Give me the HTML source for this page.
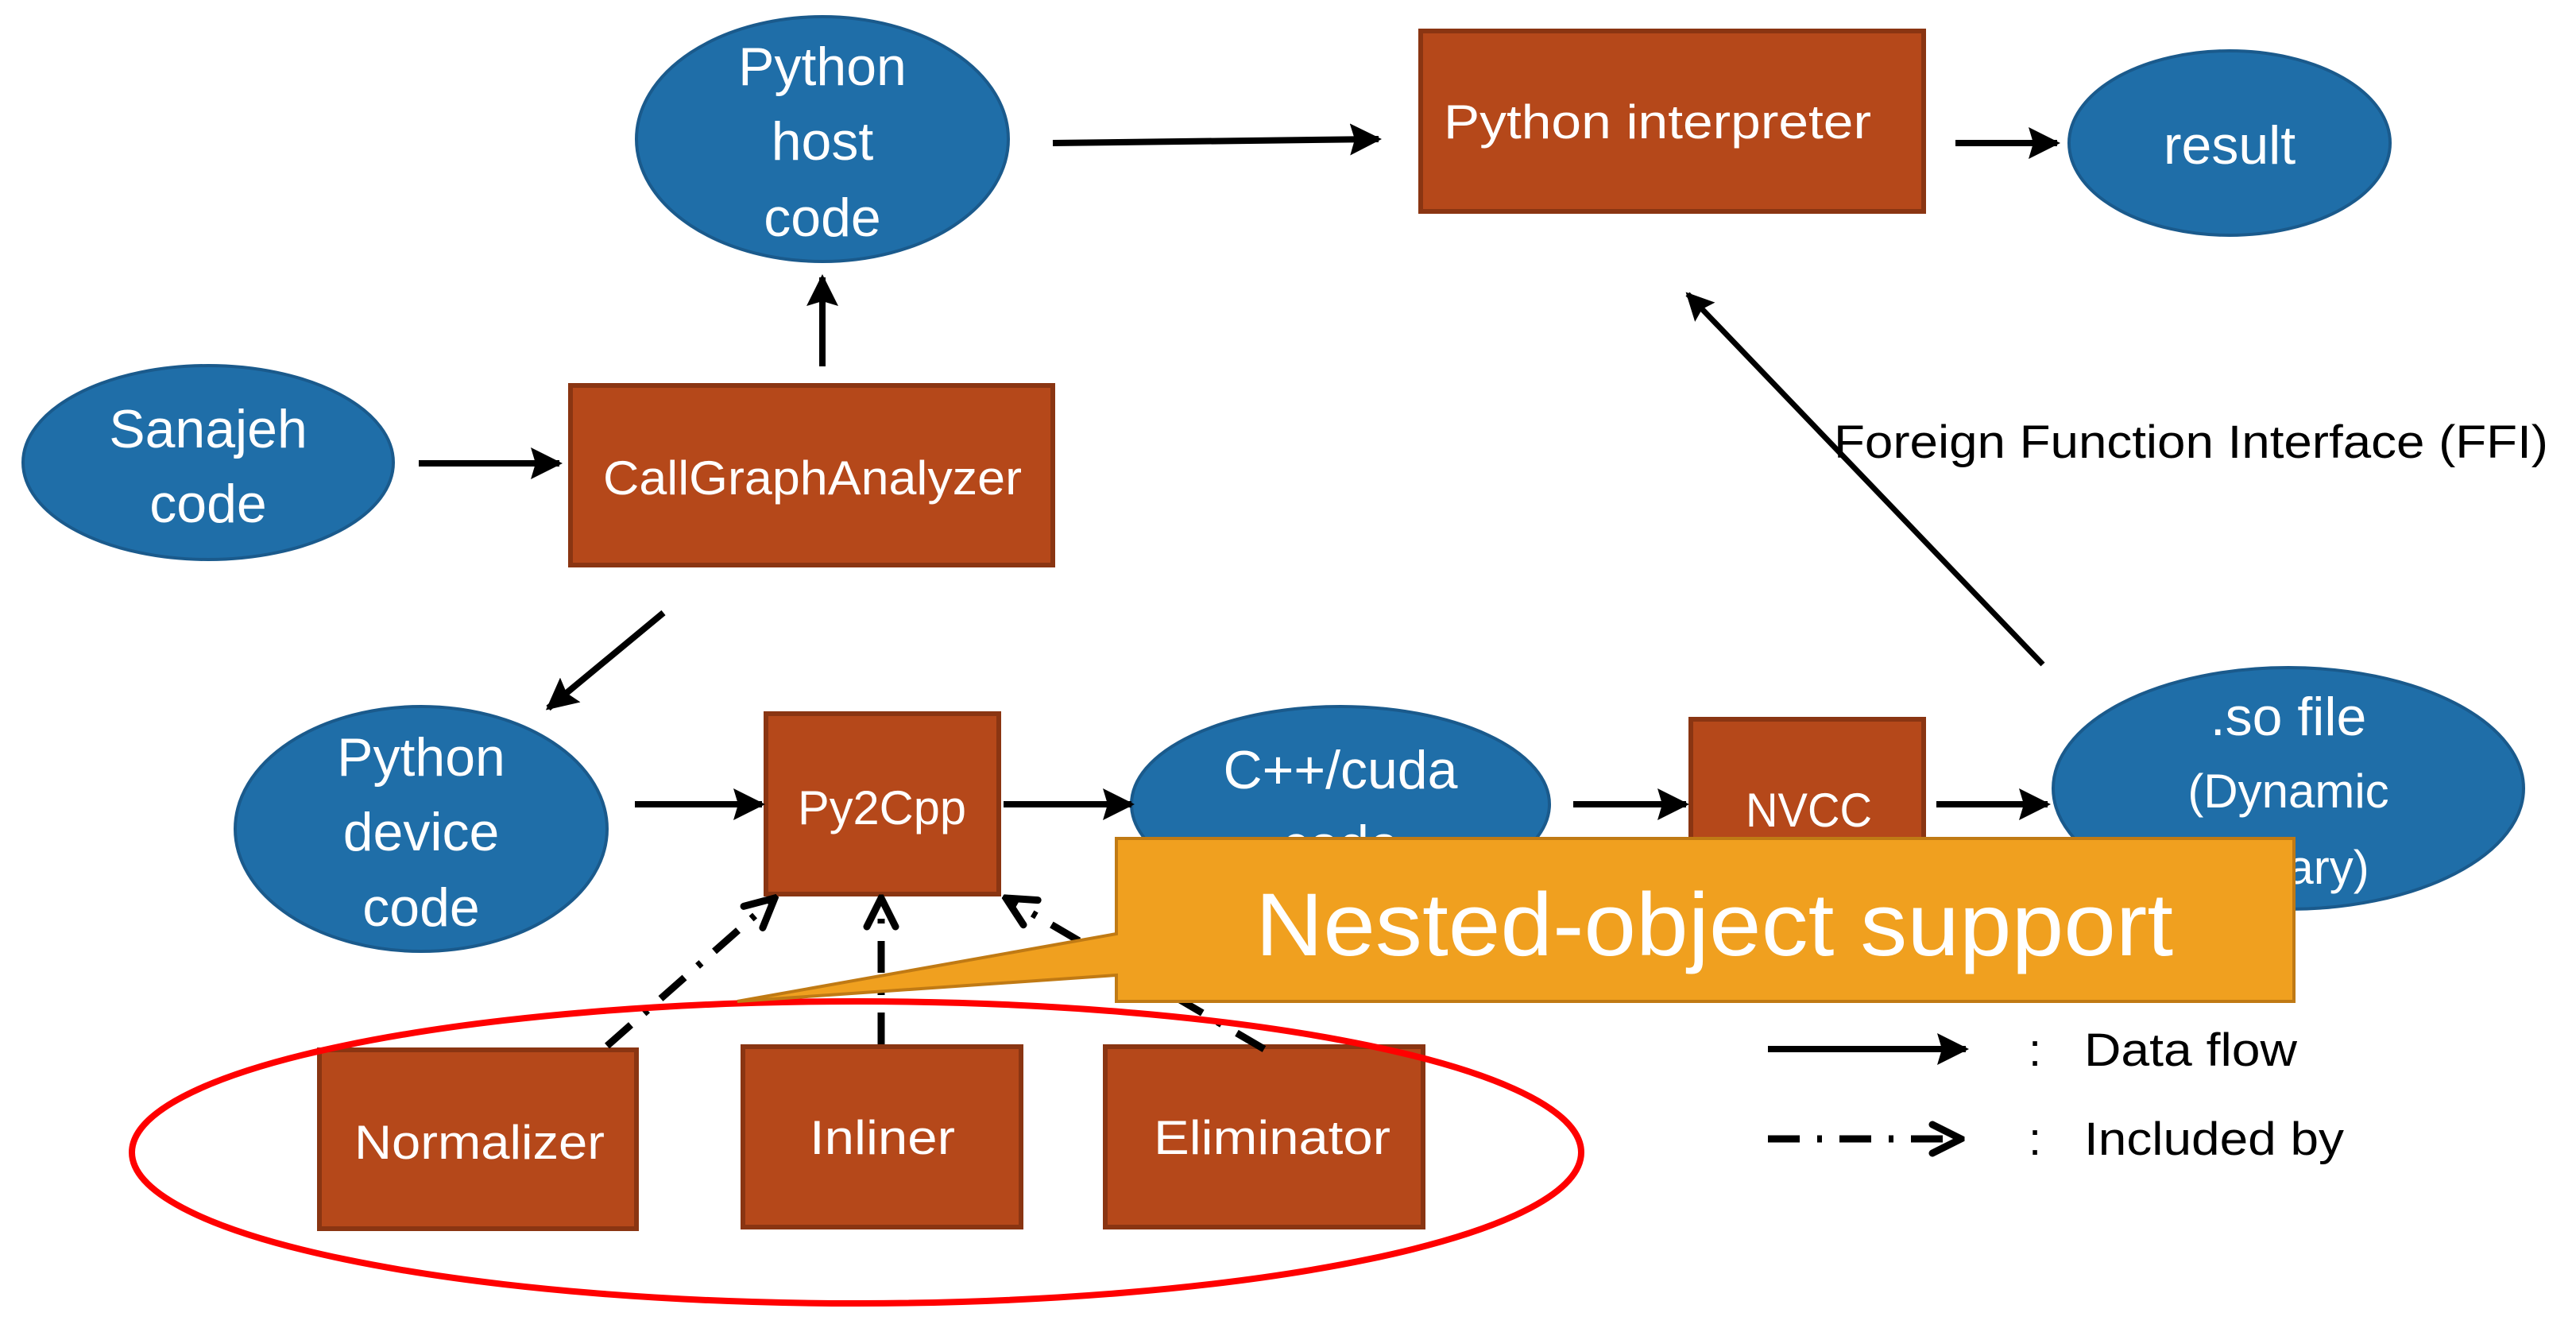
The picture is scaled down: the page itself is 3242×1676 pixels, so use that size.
<!DOCTYPE html>
<html><head><meta charset="utf-8"><style>
html,body{margin:0;padding:0;background:#fff;}
svg{display:block;}
text{font-family:"Liberation Sans",sans-serif;}
</style></head><body>
<svg width="3242" height="1676" viewBox="0 0 3242 1676" xmlns="http://www.w3.org/2000/svg">
<defs>
<marker id="ah" viewBox="0 0 10 10" refX="9" refY="5" markerWidth="5" markerHeight="5" orient="auto" markerUnits="strokeWidth">
<path d="M0,0 L10,5 L0,10 L1.5,5 z" fill="#000"/></marker>
<marker id="oh" viewBox="0 0 10 10" refX="9" refY="5" markerWidth="5" markerHeight="5" orient="auto" markerUnits="strokeWidth">
<path d="M1,1 L9,5 L1,9" fill="none" stroke="#000" stroke-width="2" stroke-linecap="round"/></marker>
</defs>
<g fill="#1F6EA8" stroke="#1A5A8C" stroke-width="4">
<ellipse cx="1035" cy="175" rx="234" ry="154"/>
<ellipse cx="262" cy="582" rx="233" ry="122"/>
<ellipse cx="2806" cy="180" rx="202" ry="116"/>
<ellipse cx="530" cy="1043" rx="234" ry="154"/>
<ellipse cx="1687" cy="1012" rx="263" ry="123"/>
<ellipse cx="2880" cy="992" rx="296" ry="152"/>
</g>
<g fill="#B5481A" stroke="#8A3512" stroke-width="6">
<rect x="718" y="485" width="607" height="226"/>
<rect x="1788" y="39" width="633" height="227"/>
<rect x="964" y="898" width="293" height="227"/>
<rect x="2128" y="905" width="293" height="230"/>
<rect x="402" y="1321" width="399" height="225"/>
<rect x="935" y="1317" width="350" height="227"/>
<rect x="1391" y="1317" width="400" height="227"/>
</g>
<g fill="#fff" font-size="68" text-anchor="middle">
<text x="1035" y="107">Python</text>
<text x="1035" y="201">host</text>
<text x="1035" y="297">code</text>
<text x="262" y="563">Sanajeh</text>
<text x="262" y="657">code</text>
<text x="530" y="976">Python</text>
<text x="530" y="1070">device</text>
<text x="530" y="1165">code</text>
<text x="1687" y="992">C++/cuda</text>
<text x="1687" y="1086">code</text>
<text x="2880" y="925">.so file</text>
<text x="2880" y="1016" font-size="60">(Dynamic</text>
<text x="2880" y="1112" font-size="60">Library)</text>
<text x="2806" y="206">result</text>
</g>
<g fill="#fff" font-size="60">
<text x="759" y="622" textLength="527" lengthAdjust="spacingAndGlyphs">CallGraphAnalyzer</text>
<text x="1817" y="174" textLength="538" lengthAdjust="spacingAndGlyphs">Python interpreter</text>
<text x="1004" y="1037" textLength="212" lengthAdjust="spacingAndGlyphs">Py2Cpp</text>
<text x="2197" y="1040" textLength="159" lengthAdjust="spacingAndGlyphs">NVCC</text>
<text x="446" y="1458" textLength="315" lengthAdjust="spacingAndGlyphs">Normalizer</text>
<text x="1019" y="1452" textLength="183" lengthAdjust="spacingAndGlyphs">Inliner</text>
<text x="1452" y="1452" textLength="298" lengthAdjust="spacingAndGlyphs">Eliminator</text>
</g>
<g stroke="#000" stroke-width="8" fill="none" marker-end="url(#ah)">
<line x1="1035" y1="461" x2="1035" y2="349"/>
<line x1="527" y1="583" x2="704" y2="583"/>
<line x1="1325" y1="180" x2="1735" y2="175"/>
<line x1="2461" y1="180" x2="2589" y2="180"/>
<line x1="835" y1="771" x2="690" y2="891"/>
<line x1="799" y1="1012" x2="959" y2="1012"/>
<line x1="1263" y1="1012" x2="1424" y2="1012"/>
<line x1="1980" y1="1012" x2="2122" y2="1012"/>
<line x1="2437" y1="1012" x2="2577" y2="1012"/>
<line x1="2225" y1="1320" x2="2474" y2="1320"/>
</g>
<line x1="2571" y1="836" x2="2124" y2="370" stroke="#000" stroke-width="7" marker-end="url(#ah)"/>
<g stroke="#000" stroke-width="9" fill="none" stroke-dasharray="40,22,6,22" marker-end="url(#oh)">
<line x1="764" y1="1316" x2="975" y2="1130"/>
<line x1="1109" y1="1314" x2="1109" y2="1130"/>
<line x1="1591" y1="1320" x2="1266" y2="1130"/>
<line x1="2225" y1="1433" x2="2468" y2="1433"/>
</g>
<ellipse cx="1078" cy="1450" rx="912" ry="190" fill="none" stroke="#FF0000" stroke-width="8"/>
<path d="M1405,1055 L2887,1055 L2887,1260 L1405,1260 L1405,1227 L928,1260 L1405,1175 Z" fill="#F0A01F" stroke="#C07A14" stroke-width="4"/>
<text x="1580" y="1202" fill="#fff" font-size="112" textLength="1155" lengthAdjust="spacingAndGlyphs">Nested-object support</text>
<g fill="#000" font-size="58">
<text x="2308" y="576" textLength="899" lengthAdjust="spacingAndGlyphs">Foreign Function Interface (FFI)</text>
<text x="2553" y="1341">:</text>
<text x="2623" y="1341" textLength="268" lengthAdjust="spacingAndGlyphs">Data flow</text>
<text x="2553" y="1453">:</text>
<text x="2623" y="1453" textLength="327" lengthAdjust="spacingAndGlyphs">Included by</text>
</g>
</svg>
</body></html>
